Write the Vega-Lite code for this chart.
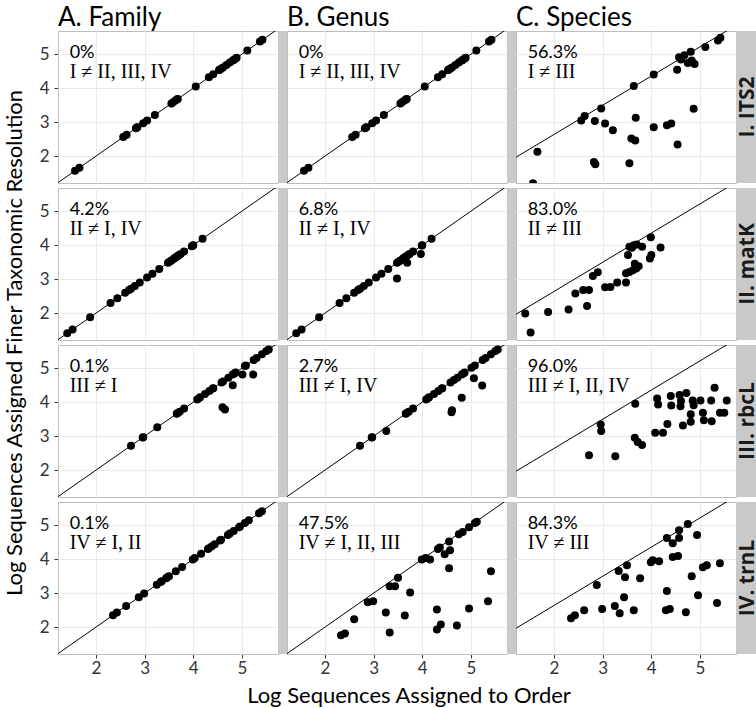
{
"$schema":"https://vega.github.io/schema/vega-lite/v6.json",
"padding":{"left":3,"top":5,"right":23,"bottom":0},
"bounds":"flush",
"background":"white",
"data":{"values":[
{"c":"A","r":"I","k":"ann","pct":"0%","cmp":"I ≠ II, III, IV","lab":"I. ITS2"},
{"c":"B","r":"I","k":"ann","pct":"0%","cmp":"I ≠ II, III, IV","lab":"I. ITS2"},
{"c":"C","r":"I","k":"ann","pct":"56.3%","cmp":"I ≠ III","lab":"I. ITS2"},
{"c":"A","r":"II","k":"ann","pct":"4.2%","cmp":"II ≠ I, IV","lab":"II. matK"},
{"c":"B","r":"II","k":"ann","pct":"6.8%","cmp":"II ≠ I, IV","lab":"II. matK"},
{"c":"C","r":"II","k":"ann","pct":"83.0%","cmp":"II ≠ III","lab":"II. matK"},
{"c":"A","r":"III","k":"ann","pct":"0.1%","cmp":"III ≠ I","lab":"III. rbcL"},
{"c":"B","r":"III","k":"ann","pct":"2.7%","cmp":"III ≠ I, IV","lab":"III. rbcL"},
{"c":"C","r":"III","k":"ann","pct":"96.0%","cmp":"III ≠ I, II, IV","lab":"III. rbcL"},
{"c":"A","r":"IV","k":"ann","pct":"0.1%","cmp":"IV ≠ I, II","lab":"IV. trnL"},
{"c":"B","r":"IV","k":"ann","pct":"47.5%","cmp":"IV ≠ I, II, III","lab":"IV. trnL"},
{"c":"C","r":"IV","k":"ann","pct":"84.3%","cmp":"IV ≠ III","lab":"IV. trnL"},
{"c":"A","r":"I","k":"line","x":1.2,"y":1.2,"x2":5.8,"y2":5.8},
{"c":"B","r":"I","k":"line","x":1.2,"y":1.2,"x2":5.8,"y2":5.8},
{"c":"C","r":"I","k":"line","x":1.2,"y":1.95,"x2":5.8,"y2":5.9},
{"c":"A","r":"II","k":"line","x":1.2,"y":1.2,"x2":5.8,"y2":5.8},
{"c":"B","r":"II","k":"line","x":1.2,"y":1.2,"x2":5.8,"y2":5.8},
{"c":"C","r":"II","k":"line","x":1.2,"y":1.95,"x2":5.8,"y2":5.9},
{"c":"A","r":"III","k":"line","x":1.2,"y":1.2,"x2":5.8,"y2":5.8},
{"c":"B","r":"III","k":"line","x":1.2,"y":1.2,"x2":5.8,"y2":5.8},
{"c":"C","r":"III","k":"line","x":1.2,"y":1.95,"x2":5.8,"y2":5.9},
{"c":"A","r":"IV","k":"line","x":1.2,"y":1.2,"x2":5.8,"y2":5.8},
{"c":"B","r":"IV","k":"line","x":1.2,"y":1.2,"x2":5.8,"y2":5.8},
{"c":"C","r":"IV","k":"line","x":1.2,"y":1.95,"x2":5.8,"y2":5.9},

{"c":"A","r":"I","k":"p","x":1.57,"y":1.57},{"c":"A","r":"I","k":"p","x":1.66,"y":1.66},{"c":"A","r":"I","k":"p","x":2.56,"y":2.56},{"c":"A","r":"I","k":"p","x":2.63,"y":2.63},{"c":"A","r":"I","k":"p","x":2.82,"y":2.82},{"c":"A","r":"I","k":"p","x":2.84,"y":2.84},{"c":"A","r":"I","k":"p","x":2.85,"y":2.85},{"c":"A","r":"I","k":"p","x":2.97,"y":2.97},{"c":"A","r":"I","k":"p","x":3.05,"y":3.05},{"c":"A","r":"I","k":"p","x":3.21,"y":3.21},{"c":"A","r":"I","k":"p","x":3.55,"y":3.55},{"c":"A","r":"I","k":"p","x":3.59,"y":3.59},{"c":"A","r":"I","k":"p","x":3.64,"y":3.64},{"c":"A","r":"I","k":"p","x":3.67,"y":3.67},{"c":"A","r":"I","k":"p","x":3.68,"y":3.68},{"c":"A","r":"I","k":"p","x":4.05,"y":4.05},{"c":"A","r":"I","k":"p","x":4.32,"y":4.32},{"c":"A","r":"I","k":"p","x":4.41,"y":4.41},{"c":"A","r":"I","k":"p","x":4.53,"y":4.53},{"c":"A","r":"I","k":"p","x":4.54,"y":4.54},{"c":"A","r":"I","k":"p","x":4.57,"y":4.57},{"c":"A","r":"I","k":"p","x":4.61,"y":4.61},{"c":"A","r":"I","k":"p","x":4.68,"y":4.68},{"c":"A","r":"I","k":"p","x":4.75,"y":4.75},{"c":"A","r":"I","k":"p","x":4.81,"y":4.81},{"c":"A","r":"I","k":"p","x":4.83,"y":4.83},{"c":"A","r":"I","k":"p","x":4.87,"y":4.87},{"c":"A","r":"I","k":"p","x":4.89,"y":4.89},{"c":"A","r":"I","k":"p","x":5.11,"y":5.11},{"c":"A","r":"I","k":"p","x":5.37,"y":5.37},{"c":"A","r":"I","k":"p","x":5.42,"y":5.42},

{"c":"B","r":"I","k":"p","x":1.57,"y":1.57},{"c":"B","r":"I","k":"p","x":1.66,"y":1.66},{"c":"B","r":"I","k":"p","x":2.56,"y":2.56},{"c":"B","r":"I","k":"p","x":2.63,"y":2.63},{"c":"B","r":"I","k":"p","x":2.82,"y":2.82},{"c":"B","r":"I","k":"p","x":2.84,"y":2.84},{"c":"B","r":"I","k":"p","x":2.85,"y":2.85},{"c":"B","r":"I","k":"p","x":2.97,"y":2.97},{"c":"B","r":"I","k":"p","x":3.05,"y":3.05},{"c":"B","r":"I","k":"p","x":3.21,"y":3.21},{"c":"B","r":"I","k":"p","x":3.55,"y":3.55},{"c":"B","r":"I","k":"p","x":3.59,"y":3.59},{"c":"B","r":"I","k":"p","x":3.64,"y":3.64},{"c":"B","r":"I","k":"p","x":3.67,"y":3.67},{"c":"B","r":"I","k":"p","x":3.68,"y":3.68},{"c":"B","r":"I","k":"p","x":4.05,"y":4.05},{"c":"B","r":"I","k":"p","x":4.32,"y":4.32},{"c":"B","r":"I","k":"p","x":4.41,"y":4.41},{"c":"B","r":"I","k":"p","x":4.53,"y":4.53},{"c":"B","r":"I","k":"p","x":4.54,"y":4.54},{"c":"B","r":"I","k":"p","x":4.57,"y":4.57},{"c":"B","r":"I","k":"p","x":4.61,"y":4.61},{"c":"B","r":"I","k":"p","x":4.68,"y":4.68},{"c":"B","r":"I","k":"p","x":4.75,"y":4.75},{"c":"B","r":"I","k":"p","x":4.81,"y":4.81},{"c":"B","r":"I","k":"p","x":4.83,"y":4.83},{"c":"B","r":"I","k":"p","x":4.87,"y":4.87},{"c":"B","r":"I","k":"p","x":4.89,"y":4.89},{"c":"B","r":"I","k":"p","x":5.11,"y":5.11},{"c":"B","r":"I","k":"p","x":5.37,"y":5.37},{"c":"B","r":"I","k":"p","x":5.42,"y":5.42},

{"c":"C","r":"I","k":"p","x":1.57,"y":1.2},{"c":"C","r":"I","k":"p","x":1.66,"y":2.13},{"c":"C","r":"I","k":"p","x":2.56,"y":3.05},{"c":"C","r":"I","k":"p","x":2.63,"y":3.18},{"c":"C","r":"I","k":"p","x":2.82,"y":1.83},{"c":"C","r":"I","k":"p","x":2.84,"y":3.03},{"c":"C","r":"I","k":"p","x":2.85,"y":1.76},{"c":"C","r":"I","k":"p","x":2.97,"y":3.4},{"c":"C","r":"I","k":"p","x":3.05,"y":2.96},{"c":"C","r":"I","k":"p","x":3.21,"y":2.76},{"c":"C","r":"I","k":"p","x":3.55,"y":1.79},{"c":"C","r":"I","k":"p","x":3.59,"y":2.52},{"c":"C","r":"I","k":"p","x":3.64,"y":4.06},{"c":"C","r":"I","k":"p","x":3.67,"y":2.46},{"c":"C","r":"I","k":"p","x":3.68,"y":3.13},{"c":"C","r":"I","k":"p","x":4.05,"y":2.85},{"c":"C","r":"I","k":"p","x":4.05,"y":4.4},{"c":"C","r":"I","k":"p","x":4.32,"y":2.91},{"c":"C","r":"I","k":"p","x":4.41,"y":2.96},{"c":"C","r":"I","k":"p","x":4.53,"y":4.54},{"c":"C","r":"I","k":"p","x":4.54,"y":2.34},{"c":"C","r":"I","k":"p","x":4.57,"y":4.91},{"c":"C","r":"I","k":"p","x":4.61,"y":4.84},{"c":"C","r":"I","k":"p","x":4.68,"y":4.97},{"c":"C","r":"I","k":"p","x":4.75,"y":4.74},{"c":"C","r":"I","k":"p","x":4.81,"y":5.07},{"c":"C","r":"I","k":"p","x":4.83,"y":4.81},{"c":"C","r":"I","k":"p","x":4.87,"y":3.39},{"c":"C","r":"I","k":"p","x":4.89,"y":4.71},{"c":"C","r":"I","k":"p","x":5.11,"y":5.21},{"c":"C","r":"I","k":"p","x":5.37,"y":5.4},{"c":"C","r":"I","k":"p","x":5.42,"y":5.48},

{"c":"A","r":"II","k":"p","x":1.41,"y":1.41},{"c":"A","r":"II","k":"p","x":1.52,"y":1.52},{"c":"A","r":"II","k":"p","x":1.88,"y":1.88},{"c":"A","r":"II","k":"p","x":2.3,"y":2.3},{"c":"A","r":"II","k":"p","x":2.44,"y":2.44},{"c":"A","r":"II","k":"p","x":2.6,"y":2.6},{"c":"A","r":"II","k":"p","x":2.68,"y":2.68},{"c":"A","r":"II","k":"p","x":2.72,"y":2.72},{"c":"A","r":"II","k":"p","x":2.8,"y":2.8},{"c":"A","r":"II","k":"p","x":2.9,"y":2.9},{"c":"A","r":"II","k":"p","x":3.05,"y":3.05},{"c":"A","r":"II","k":"p","x":3.16,"y":3.16},{"c":"A","r":"II","k":"p","x":3.3,"y":3.3},{"c":"A","r":"II","k":"p","x":3.48,"y":3.48},{"c":"A","r":"II","k":"p","x":3.52,"y":3.52},{"c":"A","r":"II","k":"p","x":3.55,"y":3.55},{"c":"A","r":"II","k":"p","x":3.6,"y":3.6},{"c":"A","r":"II","k":"p","x":3.62,"y":3.62},{"c":"A","r":"II","k":"p","x":3.64,"y":3.64},{"c":"A","r":"II","k":"p","x":3.66,"y":3.66},{"c":"A","r":"II","k":"p","x":3.69,"y":3.69},{"c":"A","r":"II","k":"p","x":3.7,"y":3.7},{"c":"A","r":"II","k":"p","x":3.74,"y":3.74},{"c":"A","r":"II","k":"p","x":3.81,"y":3.81},{"c":"A","r":"II","k":"p","x":3.97,"y":3.97},{"c":"A","r":"II","k":"p","x":3.99,"y":3.99},{"c":"A","r":"II","k":"p","x":4.0,"y":4.0},{"c":"A","r":"II","k":"p","x":4.19,"y":4.19},

{"c":"B","r":"II","k":"p","x":1.41,"y":1.41},{"c":"B","r":"II","k":"p","x":1.52,"y":1.52},{"c":"B","r":"II","k":"p","x":1.88,"y":1.88},{"c":"B","r":"II","k":"p","x":2.3,"y":2.3},{"c":"B","r":"II","k":"p","x":2.44,"y":2.44},{"c":"B","r":"II","k":"p","x":2.6,"y":2.6},{"c":"B","r":"II","k":"p","x":2.68,"y":2.68},{"c":"B","r":"II","k":"p","x":2.72,"y":2.72},{"c":"B","r":"II","k":"p","x":2.8,"y":2.8},{"c":"B","r":"II","k":"p","x":2.9,"y":2.9},{"c":"B","r":"II","k":"p","x":3.05,"y":3.05},{"c":"B","r":"II","k":"p","x":3.16,"y":3.16},{"c":"B","r":"II","k":"p","x":3.3,"y":3.3},{"c":"B","r":"II","k":"p","x":3.48,"y":3.02},{"c":"B","r":"II","k":"p","x":3.48,"y":3.48},{"c":"B","r":"II","k":"p","x":3.52,"y":3.52},{"c":"B","r":"II","k":"p","x":3.55,"y":3.55},{"c":"B","r":"II","k":"p","x":3.6,"y":3.6},{"c":"B","r":"II","k":"p","x":3.62,"y":3.62},{"c":"B","r":"II","k":"p","x":3.64,"y":3.64},{"c":"B","r":"II","k":"p","x":3.66,"y":3.66},{"c":"B","r":"II","k":"p","x":3.69,"y":3.48},{"c":"B","r":"II","k":"p","x":3.7,"y":3.7},{"c":"B","r":"II","k":"p","x":3.74,"y":3.74},{"c":"B","r":"II","k":"p","x":3.81,"y":3.81},{"c":"B","r":"II","k":"p","x":3.97,"y":3.74},{"c":"B","r":"II","k":"p","x":3.99,"y":3.99},{"c":"B","r":"II","k":"p","x":4.0,"y":4.0},{"c":"B","r":"II","k":"p","x":4.19,"y":4.19},

{"c":"C","r":"II","k":"p","x":1.41,"y":1.99},{"c":"C","r":"II","k":"p","x":1.52,"y":1.43},{"c":"C","r":"II","k":"p","x":1.88,"y":2.03},{"c":"C","r":"II","k":"p","x":2.3,"y":2.11},{"c":"C","r":"II","k":"p","x":2.44,"y":2.58},{"c":"C","r":"II","k":"p","x":2.6,"y":2.68},{"c":"C","r":"II","k":"p","x":2.68,"y":2.21},{"c":"C","r":"II","k":"p","x":2.72,"y":2.68},{"c":"C","r":"II","k":"p","x":2.8,"y":3.09},{"c":"C","r":"II","k":"p","x":2.9,"y":3.2},{"c":"C","r":"II","k":"p","x":3.05,"y":2.76},{"c":"C","r":"II","k":"p","x":3.16,"y":2.77},{"c":"C","r":"II","k":"p","x":3.3,"y":2.9},{"c":"C","r":"II","k":"p","x":3.48,"y":2.9},{"c":"C","r":"II","k":"p","x":3.48,"y":3.17},{"c":"C","r":"II","k":"p","x":3.52,"y":3.71},{"c":"C","r":"II","k":"p","x":3.55,"y":3.21},{"c":"C","r":"II","k":"p","x":3.55,"y":3.95},{"c":"C","r":"II","k":"p","x":3.6,"y":3.92},{"c":"C","r":"II","k":"p","x":3.62,"y":3.26},{"c":"C","r":"II","k":"p","x":3.64,"y":4.0},{"c":"C","r":"II","k":"p","x":3.66,"y":3.45},{"c":"C","r":"II","k":"p","x":3.69,"y":3.31},{"c":"C","r":"II","k":"p","x":3.7,"y":4.02},{"c":"C","r":"II","k":"p","x":3.74,"y":3.38},{"c":"C","r":"II","k":"p","x":3.81,"y":3.95},{"c":"C","r":"II","k":"p","x":3.97,"y":3.61},{"c":"C","r":"II","k":"p","x":3.99,"y":4.23},{"c":"C","r":"II","k":"p","x":4.0,"y":3.71},{"c":"C","r":"II","k":"p","x":4.19,"y":3.93},

{"c":"A","r":"III","k":"p","x":2.72,"y":2.72},{"c":"A","r":"III","k":"p","x":2.96,"y":2.96},{"c":"A","r":"III","k":"p","x":2.97,"y":2.97},{"c":"A","r":"III","k":"p","x":3.26,"y":3.26},{"c":"A","r":"III","k":"p","x":3.66,"y":3.66},{"c":"A","r":"III","k":"p","x":3.67,"y":3.67},{"c":"A","r":"III","k":"p","x":3.72,"y":3.72},{"c":"A","r":"III","k":"p","x":3.81,"y":3.81},{"c":"A","r":"III","k":"p","x":4.08,"y":4.08},{"c":"A","r":"III","k":"p","x":4.12,"y":4.12},{"c":"A","r":"III","k":"p","x":4.14,"y":4.14},{"c":"A","r":"III","k":"p","x":4.24,"y":4.24},{"c":"A","r":"III","k":"p","x":4.33,"y":4.33},{"c":"A","r":"III","k":"p","x":4.4,"y":4.4},{"c":"A","r":"III","k":"p","x":4.41,"y":4.41},{"c":"A","r":"III","k":"p","x":4.58,"y":4.58},{"c":"A","r":"III","k":"p","x":4.6,"y":3.85},{"c":"A","r":"III","k":"p","x":4.61,"y":4.61},{"c":"A","r":"III","k":"p","x":4.65,"y":3.78},{"c":"A","r":"III","k":"p","x":4.72,"y":4.72},{"c":"A","r":"III","k":"p","x":4.81,"y":4.5},{"c":"A","r":"III","k":"p","x":4.81,"y":4.81},{"c":"A","r":"III","k":"p","x":4.85,"y":4.85},{"c":"A","r":"III","k":"p","x":4.87,"y":4.87},{"c":"A","r":"III","k":"p","x":5.01,"y":4.81},{"c":"A","r":"III","k":"p","x":5.06,"y":5.06},{"c":"A","r":"III","k":"p","x":5.08,"y":5.08},{"c":"A","r":"III","k":"p","x":5.23,"y":4.81},{"c":"A","r":"III","k":"p","x":5.24,"y":5.24},{"c":"A","r":"III","k":"p","x":5.3,"y":5.3},{"c":"A","r":"III","k":"p","x":5.41,"y":5.41},{"c":"A","r":"III","k":"p","x":5.5,"y":5.5},{"c":"A","r":"III","k":"p","x":5.55,"y":5.55},

{"c":"B","r":"III","k":"p","x":2.72,"y":2.72},{"c":"B","r":"III","k":"p","x":2.96,"y":2.96},{"c":"B","r":"III","k":"p","x":2.97,"y":2.97},{"c":"B","r":"III","k":"p","x":3.26,"y":3.15},{"c":"B","r":"III","k":"p","x":3.66,"y":3.66},{"c":"B","r":"III","k":"p","x":3.67,"y":3.67},{"c":"B","r":"III","k":"p","x":3.72,"y":3.72},{"c":"B","r":"III","k":"p","x":3.81,"y":3.81},{"c":"B","r":"III","k":"p","x":4.08,"y":4.08},{"c":"B","r":"III","k":"p","x":4.12,"y":4.12},{"c":"B","r":"III","k":"p","x":4.14,"y":4.14},{"c":"B","r":"III","k":"p","x":4.24,"y":4.24},{"c":"B","r":"III","k":"p","x":4.33,"y":4.33},{"c":"B","r":"III","k":"p","x":4.4,"y":4.4},{"c":"B","r":"III","k":"p","x":4.41,"y":4.41},{"c":"B","r":"III","k":"p","x":4.58,"y":4.58},{"c":"B","r":"III","k":"p","x":4.6,"y":3.7},{"c":"B","r":"III","k":"p","x":4.61,"y":3.76},{"c":"B","r":"III","k":"p","x":4.65,"y":4.65},{"c":"B","r":"III","k":"p","x":4.72,"y":4.72},{"c":"B","r":"III","k":"p","x":4.81,"y":4.13},{"c":"B","r":"III","k":"p","x":4.81,"y":4.81},{"c":"B","r":"III","k":"p","x":4.85,"y":4.85},{"c":"B","r":"III","k":"p","x":4.87,"y":4.87},{"c":"B","r":"III","k":"p","x":5.01,"y":5.01},{"c":"B","r":"III","k":"p","x":5.06,"y":4.7},{"c":"B","r":"III","k":"p","x":5.08,"y":5.08},{"c":"B","r":"III","k":"p","x":5.23,"y":4.49},{"c":"B","r":"III","k":"p","x":5.24,"y":5.24},{"c":"B","r":"III","k":"p","x":5.3,"y":5.3},{"c":"B","r":"III","k":"p","x":5.41,"y":5.41},{"c":"B","r":"III","k":"p","x":5.5,"y":5.5},{"c":"B","r":"III","k":"p","x":5.55,"y":5.55},

{"c":"C","r":"III","k":"p","x":2.72,"y":2.44},{"c":"C","r":"III","k":"p","x":2.96,"y":3.34},{"c":"C","r":"III","k":"p","x":2.97,"y":3.15},{"c":"C","r":"III","k":"p","x":3.26,"y":2.41},{"c":"C","r":"III","k":"p","x":3.66,"y":2.95},{"c":"C","r":"III","k":"p","x":3.67,"y":3.95},{"c":"C","r":"III","k":"p","x":3.72,"y":2.83},{"c":"C","r":"III","k":"p","x":3.81,"y":2.74},{"c":"C","r":"III","k":"p","x":4.08,"y":3.1},{"c":"C","r":"III","k":"p","x":4.12,"y":4.11},{"c":"C","r":"III","k":"p","x":4.14,"y":3.93},{"c":"C","r":"III","k":"p","x":4.24,"y":3.1},{"c":"C","r":"III","k":"p","x":4.33,"y":3.36},{"c":"C","r":"III","k":"p","x":4.4,"y":4.18},{"c":"C","r":"III","k":"p","x":4.41,"y":3.9},{"c":"C","r":"III","k":"p","x":4.58,"y":4.21},{"c":"C","r":"III","k":"p","x":4.6,"y":3.88},{"c":"C","r":"III","k":"p","x":4.61,"y":4.03},{"c":"C","r":"III","k":"p","x":4.65,"y":3.31},{"c":"C","r":"III","k":"p","x":4.72,"y":4.27},{"c":"C","r":"III","k":"p","x":4.81,"y":3.64},{"c":"C","r":"III","k":"p","x":4.81,"y":3.42},{"c":"C","r":"III","k":"p","x":4.85,"y":4.05},{"c":"C","r":"III","k":"p","x":4.87,"y":3.91},{"c":"C","r":"III","k":"p","x":5.01,"y":4.05},{"c":"C","r":"III","k":"p","x":5.06,"y":3.69},{"c":"C","r":"III","k":"p","x":5.08,"y":3.47},{"c":"C","r":"III","k":"p","x":5.23,"y":4.05},{"c":"C","r":"III","k":"p","x":5.24,"y":3.44},{"c":"C","r":"III","k":"p","x":5.3,"y":4.42},{"c":"C","r":"III","k":"p","x":5.41,"y":3.69},{"c":"C","r":"III","k":"p","x":5.5,"y":3.69},{"c":"C","r":"III","k":"p","x":5.55,"y":4.05},

{"c":"A","r":"IV","k":"p","x":2.35,"y":2.35},{"c":"A","r":"IV","k":"p","x":2.43,"y":2.43},{"c":"A","r":"IV","k":"p","x":2.62,"y":2.62},{"c":"A","r":"IV","k":"p","x":2.88,"y":2.88},{"c":"A","r":"IV","k":"p","x":2.99,"y":2.99},{"c":"A","r":"IV","k":"p","x":3.25,"y":3.25},{"c":"A","r":"IV","k":"p","x":3.33,"y":3.33},{"c":"A","r":"IV","k":"p","x":3.35,"y":3.35},{"c":"A","r":"IV","k":"p","x":3.44,"y":3.44},{"c":"A","r":"IV","k":"p","x":3.46,"y":3.46},{"c":"A","r":"IV","k":"p","x":3.5,"y":3.5},{"c":"A","r":"IV","k":"p","x":3.64,"y":3.64},{"c":"A","r":"IV","k":"p","x":3.77,"y":3.77},{"c":"A","r":"IV","k":"p","x":3.99,"y":3.99},{"c":"A","r":"IV","k":"p","x":4.03,"y":4.03},{"c":"A","r":"IV","k":"p","x":4.16,"y":4.16},{"c":"A","r":"IV","k":"p","x":4.3,"y":4.3},{"c":"A","r":"IV","k":"p","x":4.32,"y":4.32},{"c":"A","r":"IV","k":"p","x":4.38,"y":4.38},{"c":"A","r":"IV","k":"p","x":4.44,"y":4.44},{"c":"A","r":"IV","k":"p","x":4.55,"y":4.55},{"c":"A","r":"IV","k":"p","x":4.57,"y":4.57},{"c":"A","r":"IV","k":"p","x":4.71,"y":4.71},{"c":"A","r":"IV","k":"p","x":4.75,"y":4.75},{"c":"A","r":"IV","k":"p","x":4.83,"y":4.83},{"c":"A","r":"IV","k":"p","x":4.94,"y":4.94},{"c":"A","r":"IV","k":"p","x":4.96,"y":4.96},{"c":"A","r":"IV","k":"p","x":5.06,"y":5.06},{"c":"A","r":"IV","k":"p","x":5.14,"y":5.14},{"c":"A","r":"IV","k":"p","x":5.35,"y":5.35},{"c":"A","r":"IV","k":"p","x":5.41,"y":5.41},

{"c":"B","r":"IV","k":"p","x":2.33,"y":1.76},{"c":"B","r":"IV","k":"p","x":2.41,"y":1.81},{"c":"B","r":"IV","k":"p","x":2.6,"y":2.23},{"c":"B","r":"IV","k":"p","x":2.88,"y":2.73},{"c":"B","r":"IV","k":"p","x":2.99,"y":2.76},{"c":"B","r":"IV","k":"p","x":3.25,"y":2.43},{"c":"B","r":"IV","k":"p","x":3.33,"y":3.2},{"c":"B","r":"IV","k":"p","x":3.33,"y":1.84},{"c":"B","r":"IV","k":"p","x":3.44,"y":3.2},{"c":"B","r":"IV","k":"p","x":3.5,"y":3.45},{"c":"B","r":"IV","k":"p","x":3.64,"y":2.34},{"c":"B","r":"IV","k":"p","x":3.75,"y":3.02},{"c":"B","r":"IV","k":"p","x":3.99,"y":3.99},{"c":"B","r":"IV","k":"p","x":4.07,"y":4.03},{"c":"B","r":"IV","k":"p","x":4.16,"y":3.99},{"c":"B","r":"IV","k":"p","x":4.3,"y":2.52},{"c":"B","r":"IV","k":"p","x":4.3,"y":1.93},{"c":"B","r":"IV","k":"p","x":4.32,"y":4.3},{"c":"B","r":"IV","k":"p","x":4.36,"y":4.34},{"c":"B","r":"IV","k":"p","x":4.38,"y":2.08},{"c":"B","r":"IV","k":"p","x":4.46,"y":4.14},{"c":"B","r":"IV","k":"p","x":4.55,"y":4.52},{"c":"B","r":"IV","k":"p","x":4.57,"y":4.26},{"c":"B","r":"IV","k":"p","x":4.55,"y":3.73},{"c":"B","r":"IV","k":"p","x":4.71,"y":2.05},{"c":"B","r":"IV","k":"p","x":4.75,"y":4.73},{"c":"B","r":"IV","k":"p","x":4.83,"y":4.8},{"c":"B","r":"IV","k":"p","x":4.96,"y":2.55},{"c":"B","r":"IV","k":"p","x":4.96,"y":4.94},{"c":"B","r":"IV","k":"p","x":5.08,"y":5.06},{"c":"B","r":"IV","k":"p","x":5.12,"y":5.1},{"c":"B","r":"IV","k":"p","x":5.35,"y":2.76},{"c":"B","r":"IV","k":"p","x":5.41,"y":3.64},

{"c":"C","r":"IV","k":"p","x":2.35,"y":2.26},{"c":"C","r":"IV","k":"p","x":2.43,"y":2.35},{"c":"C","r":"IV","k":"p","x":2.62,"y":2.5},{"c":"C","r":"IV","k":"p","x":2.88,"y":3.24},{"c":"C","r":"IV","k":"p","x":2.99,"y":2.53},{"c":"C","r":"IV","k":"p","x":3.25,"y":2.62},{"c":"C","r":"IV","k":"p","x":3.33,"y":3.65},{"c":"C","r":"IV","k":"p","x":3.35,"y":2.41},{"c":"C","r":"IV","k":"p","x":3.44,"y":2.88},{"c":"C","r":"IV","k":"p","x":3.46,"y":3.47},{"c":"C","r":"IV","k":"p","x":3.5,"y":3.82},{"c":"C","r":"IV","k":"p","x":3.64,"y":2.5},{"c":"C","r":"IV","k":"p","x":3.77,"y":3.44},{"c":"C","r":"IV","k":"p","x":3.99,"y":3.91},{"c":"C","r":"IV","k":"p","x":4.03,"y":3.97},{"c":"C","r":"IV","k":"p","x":4.16,"y":3.94},{"c":"C","r":"IV","k":"p","x":4.3,"y":2.5},{"c":"C","r":"IV","k":"p","x":4.32,"y":3.06},{"c":"C","r":"IV","k":"p","x":4.32,"y":4.62},{"c":"C","r":"IV","k":"p","x":4.38,"y":2.53},{"c":"C","r":"IV","k":"p","x":4.44,"y":4.47},{"c":"C","r":"IV","k":"p","x":4.44,"y":4.06},{"c":"C","r":"IV","k":"p","x":4.55,"y":4.09},{"c":"C","r":"IV","k":"p","x":4.57,"y":4.85},{"c":"C","r":"IV","k":"p","x":4.57,"y":4.62},{"c":"C","r":"IV","k":"p","x":4.71,"y":2.44},{"c":"C","r":"IV","k":"p","x":4.75,"y":5.03},{"c":"C","r":"IV","k":"p","x":4.83,"y":3.5},{"c":"C","r":"IV","k":"p","x":4.94,"y":4.71},{"c":"C","r":"IV","k":"p","x":4.96,"y":2.94},{"c":"C","r":"IV","k":"p","x":5.06,"y":3.76},{"c":"C","r":"IV","k":"p","x":5.14,"y":3.82},{"c":"C","r":"IV","k":"p","x":5.35,"y":2.71},{"c":"C","r":"IV","k":"p","x":5.41,"y":3.88}
]},
"facet":{
 "column":{"field":"c","type":"nominal","sort":["A","B","C"],"title":"Log Sequences Assigned to Order",
  "header":{"labelOrient":"top","labelAnchor":"start","labelAlign":"left","labelExpr":"datum.value == 'A' ? 'A. Family' : datum.value == 'B' ? 'B. Genus' : 'C. Species'","labelFont":"Lato","labelFontSize":26,"labelColor":"black","labelPadding":0,
   "titleOrient":"bottom","titleFont":"Lato","titleFontSize":22,"titleFontWeight":"normal","titleColor":"black","titlePadding":0}},
 "row":{"field":"r","type":"nominal","sort":["I","II","III","IV"],"title":"Log Sequences Assigned Finer Taxonomic Resolution",
  "header":{"labelOrient":"left","labelExpr":"''","labelFontSize":1,"labelPadding":0,"titleOrient":"left","titleFont":"Lato","titleFontSize":22,"titleFontWeight":"normal","titleColor":"black","titlePadding":1}}
},
"spacing":{"column":9,"row":5},
"spec":{
 "width":220,"height":152,
 "layer":[
  {"transform":[{"filter":"datum.k == 'line'"}],
   "mark":{"type":"rule","color":"black","strokeWidth":1,"clip":true},
   "encoding":{
    "x":{"field":"x","type":"quantitative","scale":{"domain":[1.22,5.74],"nice":false,"zero":false},"axis":{"title":null,"values":[2,3,4,5],"labelPadding":2}},
    "y":{"field":"y","type":"quantitative","scale":{"domain":[1.21,5.68],"nice":false,"zero":false},"axis":{"title":null,"values":[2,3,4,5],"labelPadding":5}},
    "x2":{"field":"x2"},"y2":{"field":"y2"}}},
  {"transform":[{"filter":"datum.k == 'ann' && datum.c != 'C'"}],
   "mark":{"type":"rect","color":"#C9C9C9","clip":false},
   "encoding":{"x":{"datum":5.74},"x2":{"datum":5.925},"y":{"datum":1.21},"y2":{"datum":5.68}}},
  {"transform":[{"filter":"datum.k == 'ann' && datum.c == 'C'"}],
   "mark":{"type":"rect","color":"#C9C9C9","clip":false},
   "encoding":{"x":{"datum":5.74},"x2":{"datum":6.213},"y":{"datum":1.21},"y2":{"datum":5.68}}},
  {"transform":[{"filter":"datum.k == 'p'"}],
   "mark":{"type":"circle","size":64,"color":"black","opacity":1,"clip":true},
   "encoding":{"x":{"field":"x","type":"quantitative"},"y":{"field":"y","type":"quantitative"}}},
  {"transform":[{"filter":"datum.k == 'ann'"}],
   "mark":{"type":"text","align":"left","baseline":"alphabetic","font":"Lato","fontSize":18,"color":"black"},
   "encoding":{"x":{"datum":1.46},"y":{"datum":4.89},"text":{"field":"pct"}}},
  {"transform":[{"filter":"datum.k == 'ann'"}],
   "mark":{"type":"text","align":"left","baseline":"alphabetic","font":"Liberation Serif","fontSize":20,"color":"black"},
   "encoding":{"x":{"datum":1.46},"y":{"datum":4.29},"text":{"field":"cmp"}}},
  {"transform":[{"filter":"datum.k == 'ann' && datum.c == 'C'"}],
   "mark":{"type":"text","align":"center","baseline":"middle","angle":270,"font":"Open Sans","fontWeight":"bold","fontSize":21,"color":"#1A1A1A","clip":false},
   "encoding":{"x":{"datum":5.977},"y":{"datum":3.445},"text":{"field":"lab"}}}
 ]
},
"config":{
 "view":{"stroke":"#BDBDBD","strokeWidth":1},
 "axis":{"domain":false,"tickSize":4,"tickColor":"#333333","gridColor":"#EAEAEA","labelFont":"Lato","labelFontSize":17,"labelColor":"#333333"}
}
}
